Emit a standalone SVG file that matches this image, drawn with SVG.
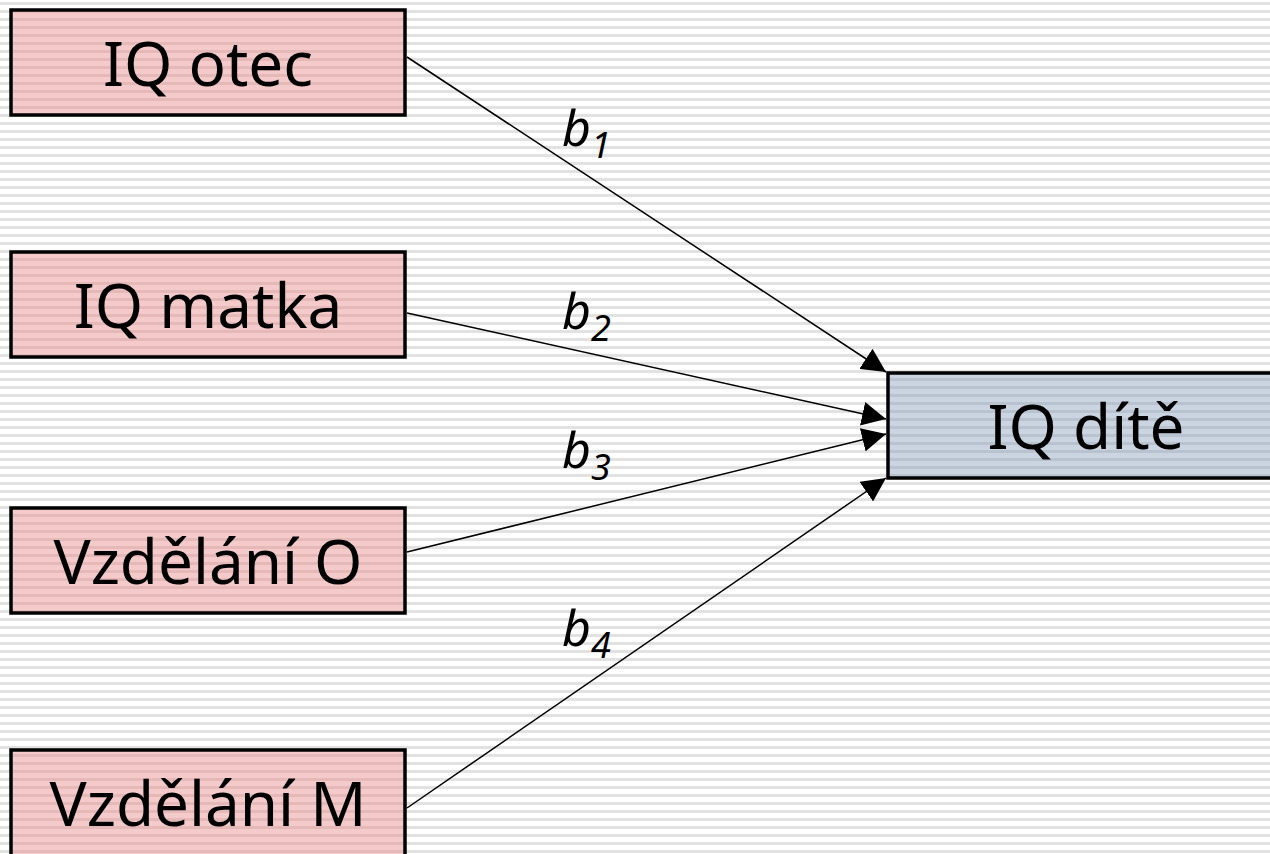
<svg xmlns="http://www.w3.org/2000/svg" width="1270" height="854" viewBox="0 0 1270 854">
  <defs>
    <pattern id="bgStripes" width="8" height="8" patternUnits="userSpaceOnUse">
      <rect width="8" height="8" fill="#ffffff"/>
      <rect y="2" width="8" height="3" fill="#e2e2e2"/>
    </pattern>
    <pattern id="pinkFill" width="8" height="8" patternUnits="userSpaceOnUse">
      <rect width="8" height="8" fill="#f5caca"/>
      <rect y="2" width="8" height="3" fill="#e6b9b9"/>
    </pattern>
    <pattern id="blueFill" width="8" height="8" patternUnits="userSpaceOnUse">
      <rect width="8" height="8" fill="#cbd5e1"/>
      <rect y="2" width="8" height="3" fill="#b9c3cf"/>
    </pattern>
    <marker id="arrow" viewBox="0 0 10 10" refX="10" refY="5" markerWidth="24" markerHeight="24" markerUnits="userSpaceOnUse" orient="auto">
      <path d="M0,0 L10,5 L0,10 Z" fill="#000"/>
    </marker>
    <style>
      .box { stroke: #000; stroke-width: 3.5; }
      .src { fill: url(#pinkFill); }
      .dst { fill: url(#blueFill); }
      .label { font-family: "Noto Sans", "Open Sans", sans-serif; font-size: 62px; fill: #000; text-anchor: middle; }
      .coef { font-family: "Noto Sans", "Open Sans", sans-serif; font-style: italic; font-size: 50px; fill: #000; }
      .sub { font-size: 36px; }
      .edge { stroke: #000; stroke-width: 1.5; fill: none; marker-end: url(#arrow); }
    </style>
  </defs>

  <rect width="1270" height="854" fill="url(#bgStripes)"/>

  <!-- connectors with path coefficients -->
  <g id="connectors">
    <line class="edge" x1="407" y1="57" x2="886" y2="372"/>
    <line class="edge" x1="407" y1="313" x2="886" y2="419"/>
    <line class="edge" x1="407" y1="552" x2="886" y2="434"/>
    <line class="edge" x1="407" y1="808" x2="886" y2="478"/>
    <text class="coef" x="562" y="146">b<tspan class="sub" dy="12">1</tspan></text>
    <text class="coef" x="562" y="329">b<tspan class="sub" dy="12">2</tspan></text>
    <text class="coef" x="562" y="468">b<tspan class="sub" dy="12">3</tspan></text>
    <text class="coef" x="562" y="646">b<tspan class="sub" dy="12">4</tspan></text>
  </g>

  <g id="iq-otec">
    <rect class="box src" x="11" y="10" width="394" height="105"/>
    <text class="label" x="208" y="86">IQ otec</text>
  </g>
  <g id="iq-matka">
    <rect class="box src" x="11" y="252" width="394" height="105"/>
    <text class="label" x="208" y="328">IQ matka</text>
  </g>
  <g id="vzdelani-o">
    <rect class="box src" x="11" y="508" width="394" height="105"/>
    <text class="label" x="208" y="584">Vzdělání O</text>
  </g>
  <g id="vzdelani-m">
    <rect class="box src" x="11" y="750" width="394" height="120"/>
    <text class="label" x="208" y="826">Vzdělání M</text>
  </g>
  <g id="iq-dite">
    <rect class="box dst" x="888" y="373" width="400" height="105"/>
    <text class="label" x="1086" y="449">IQ dítě</text>
  </g>
</svg>
